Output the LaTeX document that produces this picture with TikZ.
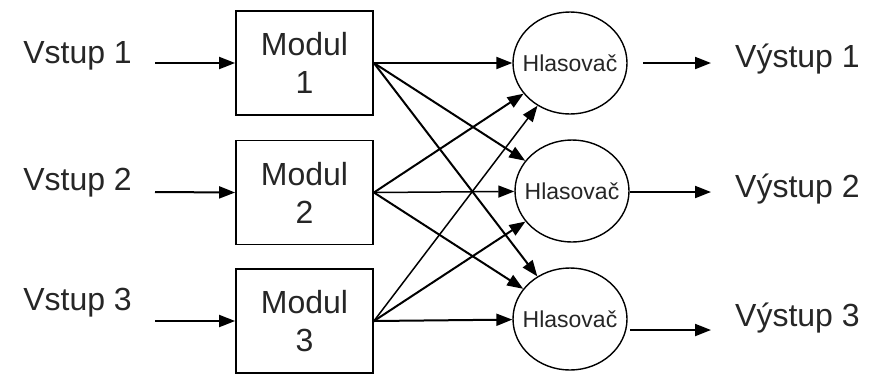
\documentclass[tikz,border=0pt]{standalone}
\usepackage{fontspec}
\setmainfont{Liberation Sans}
\usetikzlibrary{shapes.geometric,arrows.meta}
\begin{document}
\begin{tikzpicture}[x=1pt,y=-1pt,
  lbl/.style={font=\fontsize{32}{38}\selectfont, inner sep=0pt, text=black!85},
  modbox/.style={draw, line width=1.8pt, minimum width=137pt, minimum height=104pt, inner sep=0pt, align=center, font=\fontsize{32}{38}\selectfont, text=black!85},
  voter/.style={draw, ellipse, line width=1.4pt, minimum width=114pt, minimum height=102pt, inner sep=0pt,
     label={[font=\fontsize{23}{26}\selectfont, text=black!85, inner sep=0pt]center:Hlasovač}},
  conn/.style={line width=2pt, -{Triangle[length=16pt,width=12pt]}},
  thinconn/.style={line width=1.5pt, -{Triangle[length=16pt,width=12pt]}}
]
\useasboundingbox (0,0) rectangle (872,373);
% inputs
\node[lbl, anchor=east] (v1) at (132,56) {Vstup 1};
\node[lbl, anchor=east] (v2) at (132,183) {Vstup 2};
\node[lbl, anchor=east] (v3) at (132,303) {Vstup 3};
\coordinate (s1) at (155,63);
\coordinate (s2) at (155,192);
\coordinate (s3) at (155,321);
% modules
\node[modbox] (m1) at (304.5,63) {Modul\\1};
\node[modbox] (m2) at (304.5,192.5) {Modul\\2};
\node[modbox] (m3) at (304.5,321) {Modul\\3};
% voters
\node[voter] (h1) at (570,63) {};
\node[voter] (h2) at (572,191) {};
\node[voter] (h3) at (570,319) {};
% outputs
\node[lbl, anchor=west] (o1) at (735,59) {Výstup 1};
\node[lbl, anchor=west] (o2) at (735,189) {Výstup 2};
\node[lbl, anchor=west] (o3) at (735,318) {Výstup 3};
\coordinate (a1) at (643,63);
\coordinate (a2) at (630,192);
\coordinate (a3) at (630,330);
\coordinate (e1) at (711,63);
\coordinate (e2) at (711,192);
\coordinate (e3) at (711,330);
% input arrows
\draw[conn] (s1) -- (m1.west);
\draw[conn] (s2) -- (m2.west);
\draw[conn] (s3) -- (m3.west);
% module to voter
\draw[conn] (m1.east) -- (h1);
\draw[conn] (m1.east) -- (h2);
\draw[conn] (m1.east) -- (h3);
\draw[conn] (m2.east) -- (h1);
\draw[thinconn] (m2.east) -- (h2);
\draw[conn] (m2.east) -- (h3);
\draw[thinconn] (m3.east) -- (h1);
\draw[conn] (m3.east) -- (h2);
\draw[conn] (m3.east) -- (h3);
% output arrows
\draw[conn] (a1) -- (e1);
\draw[conn] (a2) -- (e2);
\draw[conn] (a3) -- (e3);
\end{tikzpicture}
\end{document}
